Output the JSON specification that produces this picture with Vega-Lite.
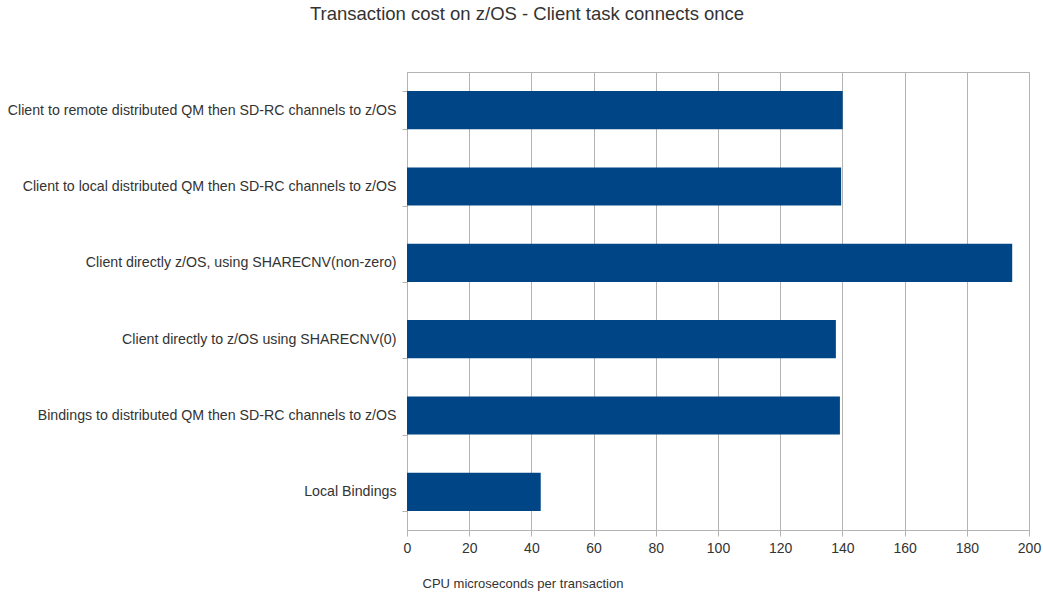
{
  "$schema": "https://vega.github.io/schema/vega-lite/v6.json",
  "autosize": "none",
  "width": 622,
  "height": 458,
  "padding": {"left": 407, "top": 72, "right": 14, "bottom": 64},
  "background": "white",
  "title": {
    "text": "Transaction cost on z/OS - Client task connects once",
    "font": "Liberation Sans",
    "fontSize": 18.5,
    "fontWeight": "normal",
    "color": "#333333",
    "anchor": "middle",
    "dx": -191,
    "offset": 42
  },
  "data": {
    "values": [
      {"scenario": "Client to remote distributed QM then SD-RC channels to z/OS", "cpu": 140.1},
      {"scenario": "Client to local distributed QM then SD-RC channels to z/OS", "cpu": 139.6},
      {"scenario": "Client directly z/OS, using SHARECNV(non-zero)", "cpu": 194.6},
      {"scenario": "Client directly to z/OS using SHARECNV(0)", "cpu": 137.9},
      {"scenario": "Bindings to distributed QM then SD-RC channels to z/OS", "cpu": 139.2},
      {"scenario": "Local Bindings", "cpu": 43.0}
    ]
  },
  "mark": {"type": "bar", "color": "#004586"},
  "encoding": {
    "y": {
      "field": "scenario",
      "type": "nominal",
      "sort": null,
      "scale": {"paddingInner": 0.5, "paddingOuter": 0.25},
      "axis": {
        "title": null,
        "tickBand": "extent",
        "tickSize": 5,
        "tickColor": "#b3b3b3",
        "domainColor": "#b3b3b3",
        "labelPadding": 6,
        "labelFont": "Liberation Sans",
        "labelFontSize": 14.2,
        "labelColor": "#333333",
        "labelLimit": 420,
        "grid": false
      }
    },
    "x": {
      "field": "cpu",
      "type": "quantitative",
      "scale": {"domain": [0, 200], "nice": false},
      "axis": {
        "values": [0, 20, 40, 60, 80, 100, 120, 140, 160, 180, 200],
        "title": "CPU microseconds per transaction",
        "titleFont": "Liberation Sans",
        "titleFontSize": 13,
        "titleFontWeight": "normal",
        "titleColor": "#333333",
        "titleAnchor": "start",
        "titleAlign": "left",
        "titleBaseline": "alphabetic",
        "titleX": 15,
        "titleY": 57,
        "tickSize": 6,
        "tickColor": "#b3b3b3",
        "domainColor": "#b3b3b3",
        "gridColor": "#b3b3b3",
        "labelFont": "Liberation Sans",
        "labelFontSize": 14,
        "labelColor": "#333333",
        "labelPadding": 5,
        "labelFlush": false
      }
    }
  },
  "config": {
    "view": {"stroke": "#b3b3b3"}
  }
}
